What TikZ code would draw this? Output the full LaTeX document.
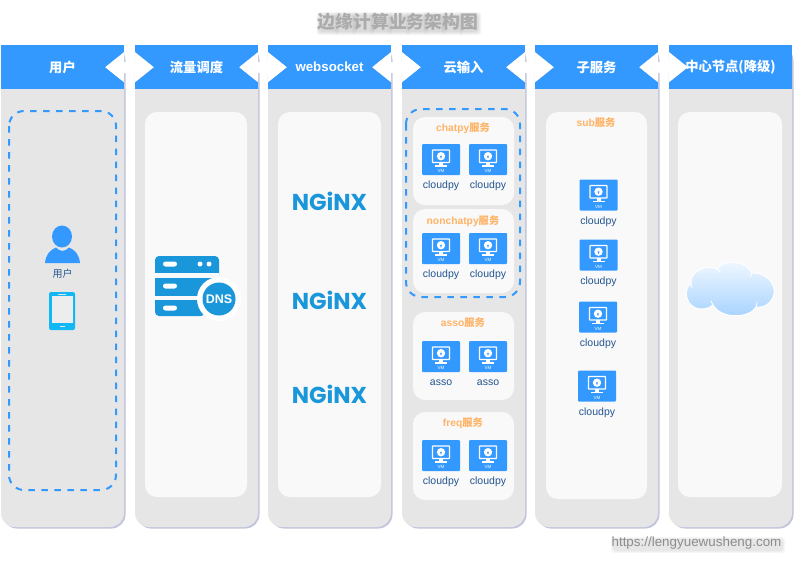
\documentclass[tikz,border=0pt]{standalone}
\usepackage{fontspec}
\setmainfont{Liberation Sans}
\newfontfamily\cjk{Noto Sans CJK SC}
\newfontfamily\logofont{Poppins}
\usetikzlibrary{arrows.meta,calc,shadings}
\definecolor{hdr}{HTML}{3399FF}
\definecolor{col}{HTML}{E6E6E6}
\definecolor{pan}{HTML}{F9F9F9}
\definecolor{shd}{HTML}{C2C5DC}
\definecolor{lbl}{HTML}{23558F}
\definecolor{org}{HTML}{FFB366}
\definecolor{nx}{HTML}{1A96DA}
\definecolor{cyanp}{HTML}{12B7F5}
\tikzset{
  header/.style={rectangle,fill=hdr,minimum width=123pt,minimum height=44.5pt,inner sep=0pt,text=white,font=\fontsize{13.3}{15}\selectfont\bfseries},
  colbody/.style={fill=col,rounded corners=14pt},
  colshadow/.style={fill=shd,rounded corners=14pt},
  panel/.style={fill=pan,rounded corners=12pt},
  dashbox/.style={draw=hdr,line width=2pt,dash pattern=on 6.5pt off 6.5pt,rounded corners=15pt},
  svc/.style={text=org,font=\fontsize{10.3}{12}\selectfont\bfseries,inner sep=0pt},
  vmlabel/.style={text=lbl,font=\fontsize{10.5}{12}\selectfont,inner sep=0pt},
  nginx/.style={text=nx,font=\fontsize{23}{25}\selectfont\logofont\bfseries,inner sep=0pt},
  link/.style={white,line width=11pt,{Triangle[length=19pt,width=29pt]}-{Triangle[length=19pt,width=29pt]}},
  linkshadow/.style={link,shd,shift={(1,1)}},
  halo/.style={black,opacity=0.035},
  vmicon/.pic={
    \node[fill=hdr,rounded corners=1pt,minimum width=38pt,minimum height=31pt,inner sep=0pt] (-box) at (0,0) {};
    \draw[white,line width=1.3pt,rounded corners=0.5pt] (-8.5,-9.5) rectangle (8.5,3);
    \fill[white] (-2,3) rectangle (2,6);
    \fill[white] (-6,5.7) rectangle (6,7);
    \fill[white] (0,-3.3) circle (4.2pt);
    \fill[hdr] (-1,-3.6) -- (1,-3.6) -- (0,-0.6) -- cycle;
    \node[text=white,font=\fontsize{4.5}{5}\selectfont,inner sep=0pt] (-vm) at (0,11.5) {VM};
    \node[vmlabel] (-name) at (0,26.5) {#1};
  },
}
\begin{document}
\begin{tikzpicture}[x=1pt,y=-1pt]
\useasboundingbox (0,0) rectangle (800,563);
\fill[white] (0,0) rectangle (800,563);
% title halo (soft shadow of each glyph)
\foreach \i in {0,...,8}{
  \foreach \d in {0,1,2,3}{
    \fill[halo,rounded corners=3pt] (319.5+\i*17.8-\d,15-\d) rectangle (336+\i*17.8+\d,32+\d);
  }
}
\node[text=black!33,font=\fontsize{17.8}{20}\selectfont\bfseries\cjk,inner sep=0pt] (title) at (398,22) {边缘计算业务架构图};
% columns
\foreach \l in {1,135,268,402,535,669}{
  \fill[colshadow] (\l+2,70) -- (\l+2,528.5) -- (\l+124.5,528.5) -- (\l+124.5,46.5) -- (\l+100,46.5) -- cycle;
  \fill[colbody] (\l,70) -- (\l,527) -- (\l+123,527) -- (\l+123,70) -- cycle;
}
% inner panels
\fill[panel] (145,112) rectangle (247,497);
\fill[panel] (278,112) rectangle (381,497);
\fill[panel] (546,112) rectangle (647,499);
\fill[panel] (678,112) rectangle (782,497);
% headers
\node[header] (h1) at (62.5,67.2) {\cjk 用户};
\node[header] (h2) at (196.5,67.2) {\cjk 流量调度};
\node[header] (h3) at (329.5,67.2) {websocket};
\node[header] (h4) at (463.5,67.2) {\cjk 云输入};
\node[header] (h5) at (596.5,67.2) {\cjk 子服务};
\node[header] (h6) at (730.5,67.2) {};
% double arrows between headers
\foreach \a/\b in {h1/h2,h2/h3,h3/h4,h4/h5,h5/h6}{
  \draw[linkshadow] ($(\a.east)+(-19,0)$) -- ($(\b.west)+(19,0)$);
  \draw[link] ($(\a.east)+(-19,0)$) -- ($(\b.west)+(19,0)$);
}
\node[text=white,font=\fontsize{13.3}{15}\selectfont\bfseries,inner sep=0pt] (h6t) at (730.5,67.2) {\cjk 中心节点(降级)};
% column 1
\draw[dashbox] (9,111) rectangle (116,490);
\fill[hdr] (62,236.5) ellipse (10pt and 11pt);
\fill[hdr] (45,263) .. controls (46,254) and (50,250) .. (56,247.5) .. controls (60,252) and (65,252) .. (69,247.5) .. controls (75,250) and (79,254) .. (80,263) -- cycle;
\node[text=lbl,font=\fontsize{10}{12}\selectfont\cjk,inner sep=0pt] (userlabel) at (62.5,273.5) {用户};
\fill[cyanp,rounded corners=2pt] (49,292) rectangle (75,330);
\fill[col!70!white] (52,296) rectangle (73,323);
\fill[col] (58,293.5) rectangle (66,294.5);
\fill[col] (59.5,325.5) rectangle (64.5,327);
% DNS icon
\fill[nx,rounded corners=4pt] (155,256) rectangle (219,280);
\fill[pan] (155,273) rectangle (219,281);
\fill[nx] (155,278) rectangle (215,295.5);
\fill[nx,rounded corners=4pt] (155,292) rectangle (205,316);
\fill[pan] (155,295.5) rectangle (215,300);
\fill[nx] (155,300) rectangle (205,310);
\foreach \y in {264,286,308}{\fill[white,rounded corners=2.5pt] (163,\y-2.5) rectangle (177,\y+2.5);}
\fill[white] (200,264) circle (2.5pt);
\fill[white] (209,264) circle (2.5pt);
\fill[white] (219,299) circle (22pt);
\fill[nx] (219,299) circle (16.5pt);
\node[text=white,font=\fontsize{12.5}{14}\selectfont\bfseries,inner sep=0pt] (dns) at (219,299.5) {DNS};
% nginx
\node[nginx] (nginx1) at (329.5,201) {NGiNX};
\node[nginx] (nginx2) at (329.5,300) {NGiNX};
\node[nginx] (nginx3) at (329.5,394) {NGiNX};
% column 4
\fill[panel] (413,117) rectangle (514,205);
\fill[panel] (413,209) rectangle (514,293);
\fill[panel] (413,312) rectangle (514,400);
\fill[panel] (413,412) rectangle (514,500);
\draw[dashbox] (406,109) rectangle (520,297);
\node[svc] (s1) at (463,128) {chatpy\cjk 服务};
\node[svc] (s2) at (463,221) {nonchatpy\cjk 服务};
\node[svc] (s3) at (463,323) {asso\cjk 服务};
\node[svc] (s4) at (463,423) {freq\cjk 服务};
\pic (a1) at (441,159.5) {vmicon={cloudpy}};
\pic (a2) at (488,159.5) {vmicon={cloudpy}};
\pic (b1) at (441,248.5) {vmicon={cloudpy}};
\pic (b2) at (488,248.5) {vmicon={cloudpy}};
\pic (c1) at (441,356.5) {vmicon={asso}};
\pic (c2) at (488,356.5) {vmicon={asso}};
\pic (d1) at (441,455.5) {vmicon={cloudpy}};
\pic (d2) at (488,455.5) {vmicon={cloudpy}};
% column 5
\node[svc] (s5) at (596,123) {sub\cjk 服务};
\pic (e1) at (598.5,195) {vmicon={cloudpy}};
\pic (e2) at (598.5,255) {vmicon={cloudpy}};
\pic (e3) at (598,317) {vmicon={cloudpy}};
\pic (e4) at (597,386) {vmicon={cloudpy}};
% cloud
\draw[white,line width=1pt,top color=hdr!6!white,bottom color=hdr!45!white]
  (713,305) .. controls (705,312) and (690,310) .. (687,298)
  .. controls (685,290) and (688,285) .. (691,284)
  .. controls (689,272) and (705,264) .. (717,269)
  .. controls (724,259) and (745,259) .. (752,273)
  .. controls (764,272) and (776,282) .. (774,294)
  .. controls (772,304) and (763,308) .. (756,307)
  .. controls (750,318) and (722,320) .. (713,305) -- cycle;
\draw[white,line width=0.8pt,line cap=round] (713,305) -- (711,301);
\draw[white,line width=0.8pt,line cap=round] (756,307) -- (757,302);
\draw[white,line width=0.8pt,line cap=round] (691,284) -- (692,288);
\draw[white,line width=0.8pt,line cap=round] (717,269) -- (720,272);
\draw[white,line width=0.8pt,line cap=round] (752,273) -- (750,277);
% watermark
\foreach \d in {0,1,2}{
  \fill[black,opacity=0.03,rounded corners=3pt] (613-\d,539-\d) rectangle (783+\d,551+\d);
}
\node[text=black!45,font=\fontsize{13.4}{16}\selectfont,inner sep=0pt] (wm) at (696.5,543) {https://lengyuewusheng.com};
\end{tikzpicture}
\end{document}
